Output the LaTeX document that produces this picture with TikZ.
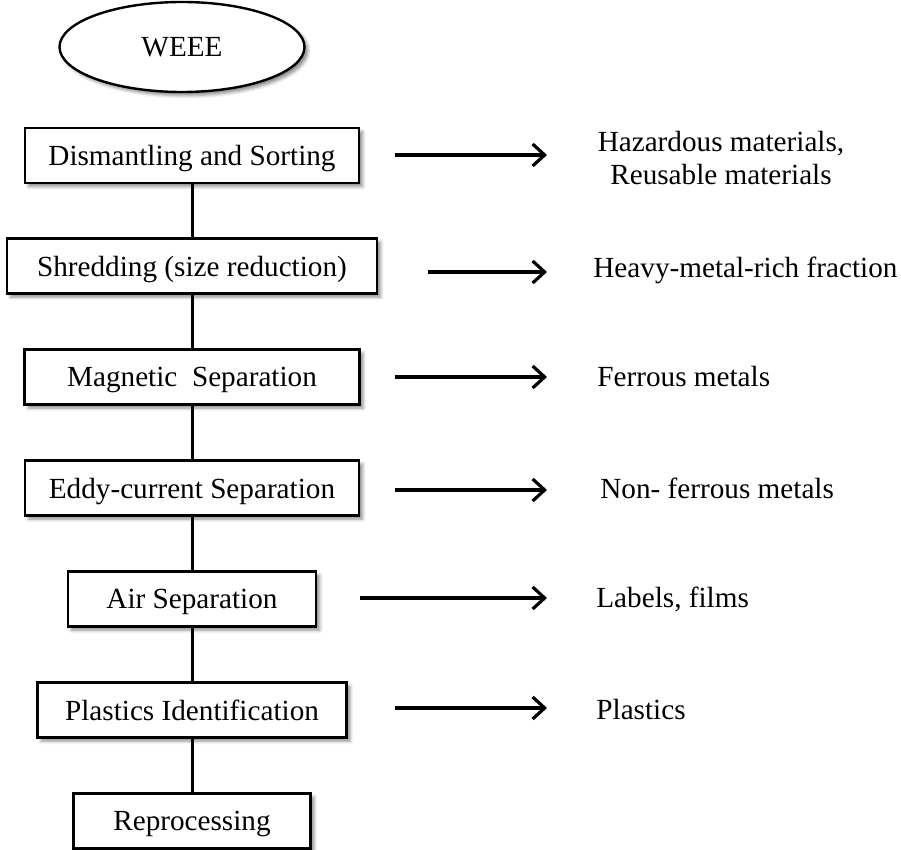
\documentclass[tikz,border=0pt]{standalone}
\usepackage{fontspec}
\setmainfont{Liberation Serif}
\usetikzlibrary{shapes.geometric, arrows.meta, shadows.blur}

\begin{document}
\begin{tikzpicture}[x=0.5pt, y=-0.5pt,
    font=\fontsize{14.6pt}{16.5pt}\selectfont,
    soft/.style={blur shadow={shadow xshift=1.8pt, shadow yshift=-1.8pt,
        shadow blur radius=1.6pt, shadow opacity=45}},
    stepbox/.style={draw, line width=1.2pt, fill=white, soft, text depth=0pt,
        minimum height=27.5pt, inner sep=0pt, minimum width=#1},
    source/.style={ellipse, draw, line width=1.2pt, fill=white, soft, text depth=0pt,
        minimum width=122.5pt, minimum height=45pt, inner sep=0pt},
    outtext/.style={anchor=west, inner sep=0pt},
    link/.style={line width=1.5pt},
    outflow/.style={line width=1.6pt, -{Straight Barb[length=6pt, width=11pt]}}]
    \useasboundingbox (0, 0) rectangle (901, 850);
    %% process chain
    \node[source] (weee) at (182, 47) {WEEE};
    \node[stepbox=167pt] (dismantle) at (192, 155.5) {Dismantling and Sorting};
    \node[stepbox=185pt] (shred) at (192, 266) {Shredding (size reduction)};
    \node[stepbox=167.5pt] (magnet) at (192, 377) {Magnetic~ Separation};
    \node[stepbox=167pt] (eddy) at (192, 488) {Eddy-current Separation};
    \node[stepbox=124pt] (air) at (192, 599) {Air Separation};
    \node[stepbox=154.5pt] (plasid) at (192, 710) {Plastics Identification};
    \node[stepbox=118.5pt] (reproc) at (192, 821) {Reprocessing};
    \draw[link] (dismantle) -- (shred);
    \draw[link] (shred) -- (magnet);
    \draw[link] (magnet) -- (eddy);
    \draw[link] (eddy) -- (air);
    \draw[link] (air) -- (plasid);
    \draw[link] (plasid) -- (reproc);
    %% outputs
    \node[align=center, inner sep=0pt] (hazard) at (721, 158) {Hazardous materials,\\ Reusable materials};
    \node[outtext] (heavy) at (593, 270) {Heavy-metal-rich fraction};
    \node[outtext] (ferrous) at (597, 377) {Ferrous metals};
    \node[outtext] (nonfer) at (600, 488) {Non- ferrous metals};
    \node[outtext] (films) at (596, 599) {Labels, films};
    \node[outtext] (plastics) at (596, 710) {Plastics};
    \coordinate (s1) at (395, 155);
    \coordinate (e1) at (547, 155);
    \coordinate (s2) at (428, 272);
    \coordinate (e2) at (547, 272);
    \coordinate (s3) at (395, 377);
    \coordinate (e3) at (547, 377);
    \coordinate (s4) at (395, 490);
    \coordinate (e4) at (547, 490);
    \coordinate (s5) at (360, 598);
    \coordinate (e5) at (547, 598);
    \coordinate (s6) at (395, 708);
    \coordinate (e6) at (547, 708);
    \draw[outflow] (s1) -- (e1);
    \draw[outflow] (s2) -- (e2);
    \draw[outflow] (s3) -- (e3);
    \draw[outflow] (s4) -- (e4);
    \draw[outflow] (s5) -- (e5);
    \draw[outflow] (s6) -- (e6);
\end{tikzpicture}
\end{document}
